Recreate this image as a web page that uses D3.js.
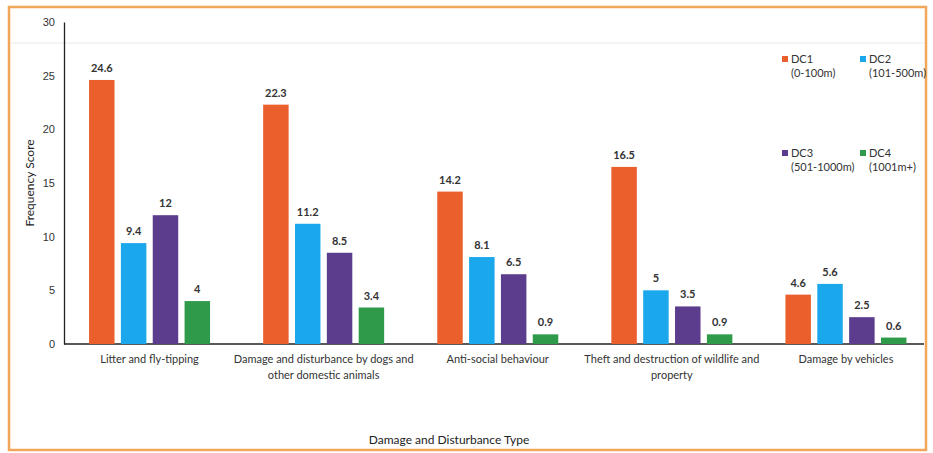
<!DOCTYPE html>
<html>
<head>
<meta charset="utf-8">
<script src="https://cdn.jsdelivr.net/npm/d3@7"></script>
<style>
  body { margin: 0; background: #fff; }
  svg { font-family: "Lato", sans-serif; }
</style>
</head>
<body>
<svg width="933" height="453"></svg>
<script>
var categories = [
  ["Litter and fly-tipping"],
  ["Damage and disturbance by dogs and", "other domestic animals"],
  ["Anti-social behaviour"],
  ["Theft and destruction of wildlife and", "property"],
  ["Damage by vehicles"]
];
var seriesNames = ["DC1", "DC2", "DC3", "DC4"];
var seriesRanges = ["(0-100m)", "(101-500m)", "(501-1000m)", "(1001m+)"];
var dc1 = [24.6, 22.3, 14.2, 16.5, 4.6];
var dc2 = [9.4, 11.2, 8.1, 5, 5.6];
var dc3 = [12, 8.5, 6.5, 3.5, 2.5];
var dc4 = [4, 3.4, 0.9, 0.9, 0.6];
var yTicks = [0, 5, 10, 15, 20, 25, 30];
var colors = ["#ea5f2c", "#1aa7eb", "#5b3c8d", "#2f9a4a"];

var values = [dc1, dc2, dc3, dc4];
var svg = d3.select("svg");

// scanned page border
svg.append("rect")
    .attr("x", 9).attr("y", 7).attr("width", 917).attr("height", 443)
    .attr("fill", "none").attr("stroke", "#f2a65a").attr("stroke-width", 2.5);
svg.append("line")
    .attr("x1", 11).attr("x2", 924).attr("y1", 43).attr("y2", 43)
    .attr("stroke", "#f0f0f0").attr("stroke-width", 1.5);

var margin = {left: 64, top: 22, bottom: 344};

var x0 = d3.scaleBand()
    .domain(d3.range(categories.length))
    .range([62.5, 933]);

var groupWidth = 121;
var x1 = d3.scaleBand()
    .domain(seriesNames)
    .range([(x0.bandwidth() - groupWidth) / 2, (x0.bandwidth() + groupWidth) / 2])
    .paddingInner(0.2);

var y = d3.scaleLinear()
    .domain([0, 30])
    .range([margin.bottom, margin.top]);

// y axis
var yAxis = svg.append("g")
    .attr("transform", "translate(" + margin.left + ",0)")
    .call(d3.axisLeft(y).tickValues(yTicks).tickSize(0).tickPadding(9));
yAxis.select(".domain").attr("stroke", "#222").attr("stroke-width", 1.3);
yAxis.selectAll("text").attr("font-size", 11).attr("fill", "#333");

// x axis
var xAxis = svg.append("g")
    .attr("transform", "translate(0," + margin.bottom + ")")
    .call(d3.axisBottom(x0).tickSize(0).tickFormat(""));
xAxis.select(".domain").attr("d", "M" + margin.left + ",0H924").attr("stroke", "#222").attr("stroke-width", 1.3);

svg.append("g").selectAll("text")
    .data(categories)
    .enter().append("text")
    .attr("x", function(d, i) { return x0(i) + x0.bandwidth() / 2; })
    .attr("y", 363)
    .attr("text-anchor", "middle")
    .attr("font-size", 11)
    .attr("fill", "#333")
    .each(function(d) {
      var t = d3.select(this);
      d.forEach(function(line, k) {
        t.append("tspan")
            .attr("x", t.attr("x"))
            .attr("dy", k == 0 ? 0 : 16)
            .text(line);
      });
    });

// bars
var rows = [];
for (var i = 0; i < categories.length; i++) {
  for (var s = 0; s < seriesNames.length; s++) {
    rows.push({cat: i, series: s, value: values[s][i]});
  }
}

var bars = svg.append("g");
bars.selectAll("rect")
    .data(rows)
    .enter().append("rect")
    .attr("x", function(d) { return x0(d.cat) + x1(seriesNames[d.series]); })
    .attr("y", function(d) { return y(d.value); })
    .attr("width", x1.bandwidth())
    .attr("height", function(d) { return y(0) - y(d.value); })
    .attr("fill", function(d) { return colors[d.series]; });

bars.selectAll("text")
    .data(rows)
    .enter().append("text")
    .attr("x", function(d) { return x0(d.cat) + x1(seriesNames[d.series]) + x1.bandwidth() / 2; })
    .attr("y", function(d) { return y(d.value) - 8; })
    .attr("text-anchor", "middle")
    .attr("font-size", 11)
    .attr("font-weight", "bold")
    .attr("fill", "#333")
    .text(function(d) { return d.value; });

// axis titles
svg.append("text")
    .attr("transform", "translate(34,183) rotate(-90)")
    .attr("text-anchor", "middle")
    .attr("font-size", 12)
    .attr("fill", "#222")
    .text("Frequency Score");

svg.append("text")
    .attr("x", 449)
    .attr("y", 444)
    .attr("text-anchor", "middle")
    .attr("font-size", 12)
    .attr("fill", "#222")
    .text("Damage and Disturbance Type");

// legend
var legendPos = [[782, 56], [860, 56], [782, 150], [860, 150]];
var legend = svg.append("g").selectAll("g")
    .data(seriesNames)
    .enter().append("g")
    .attr("transform", function(d, i) { return "translate(" + legendPos[i][0] + "," + legendPos[i][1] + ")"; });
legend.append("rect")
    .attr("width", 6).attr("height", 6)
    .attr("fill", function(d, i) { return colors[i]; });
legend.append("text")
    .attr("x", 9).attr("y", 7)
    .attr("font-size", 11).attr("fill", "#333")
    .text(function(d) { return d; });
legend.append("text")
    .attr("x", 9).attr("y", 21)
    .attr("font-size", 11).attr("fill", "#333")
    .text(function(d, i) { return seriesRanges[i]; });
</script>
</body>
</html>
